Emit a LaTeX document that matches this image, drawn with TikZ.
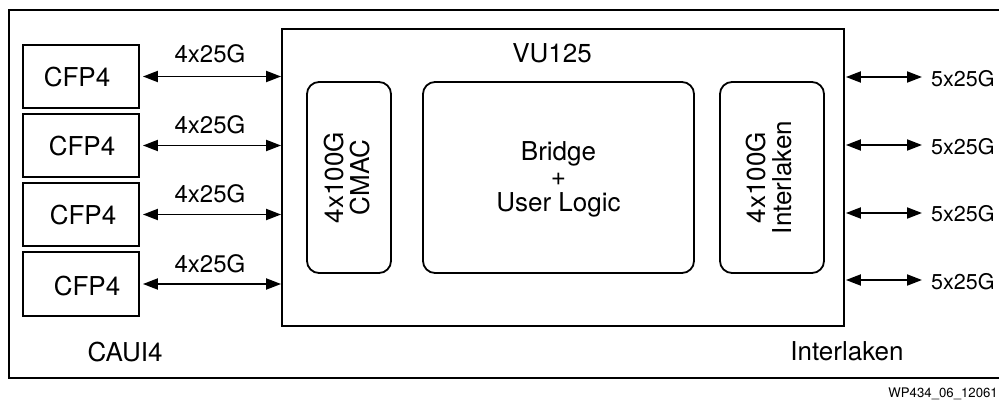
\documentclass[tikz,border=0pt]{standalone}
\usepackage{fontspec}
\setmainfont{TeX Gyre Heros}
\usetikzlibrary{arrows.meta}
\begin{document}
\begin{tikzpicture}[x=1pt,y=-1pt,
  box/.style={draw,line width=1.8pt,inner sep=0pt},
  rbox/.style={box,rounded corners=12pt},
  big/.style={font=\fontsize{26}{25.5}\selectfont},
  mid/.style={font=\fontsize{24}{26}\selectfont},
  sml/.style={font=\fontsize{21.5}{24}\selectfont},
  tiny/.style={font=\fontsize{13.2}{15}\selectfont},
  bi/.style={{Triangle[length=15pt,width=11pt]}-{Triangle[length=15pt,width=11pt]},line width=1.9pt}]
\useasboundingbox (0,0) rectangle (999,404);
\clip (0,0) rectangle (999,404);
\draw[line width=1.8pt] (9,10) rectangle (1010,378);
% CFP4 boxes
\node[box,minimum width=116pt,minimum height=63pt] (cfp1) at (81,76.5) {};
\node[box,minimum width=116pt,minimum height=63pt] (cfp2) at (81,145.5) {};
\node[box,minimum width=116pt,minimum height=63pt] (cfp3) at (81,214.5) {};
\node[box,minimum width=116pt,minimum height=64pt] (cfp4) at (81,284) {};
\node[big,anchor=base] (t1) at (77,86) {CFP4};
\node[big,anchor=base] (t2) at (82,155) {CFP4};
\node[big,anchor=base] (t3) at (83,224) {CFP4};
\node[big,anchor=base] (t4) at (87,295) {CFP4};
% VU125
\node[box,minimum width=562pt,minimum height=297pt] (vu) at (563,177.5) {};
\node[big,anchor=base] (vul) at (552,63) {VU125};
\node[rbox,minimum width=84pt,minimum height=191pt] (cmac) at (349,177.5) {};
\node[rbox,minimum width=271pt,minimum height=191pt] (bridge) at (558.5,177.5) {};
\node[rbox,minimum width=104pt,minimum height=191pt] (ilk) at (772,177.5) {};
\node[big,align=center,rotate=90] (cmact) at (347,177.5) {4x100G\\CMAC};
\node[big,align=center,rotate=90] (ilkt) at (769,177.5) {4x100G\\Interlaken};
\node[big,align=center] (bt) at (558.5,179) {Bridge\\+\\User Logic};
% left arrows
\foreach \i/\yy in {1/63,2/133,3/202,4/272}{
  \draw[bi,shorten <=3pt] (cfp\i.east) -- (cfp\i.east -| vu.west);
  \node[mid,anchor=base] (l\i) at (210,\yy) {4x25G};
}
% right arrows
\coordinate (r1) at (922,77);
\coordinate (r2) at (922,145);
\coordinate (r3) at (922,213);
\coordinate (r4) at (922,280);
\foreach \i/\yy in {1/86,2/154,3/221,4/289}{
  \draw[bi,shorten <=1pt] (vu.east |- r\i) -- (r\i);
  \node[sml,anchor=base west,inner xsep=0pt] (rl\i) at (931,\yy) {5x25G};
}
\node[big,anchor=base] (caui) at (125,361) {CAUI4};
\node[big,anchor=base] (ilkl) at (847,360) {Interlaken};
\node[tiny,anchor=base east,inner xsep=0pt] (wp) at (998,397) {WP434\_06\_12061};
\end{tikzpicture}
\end{document}
